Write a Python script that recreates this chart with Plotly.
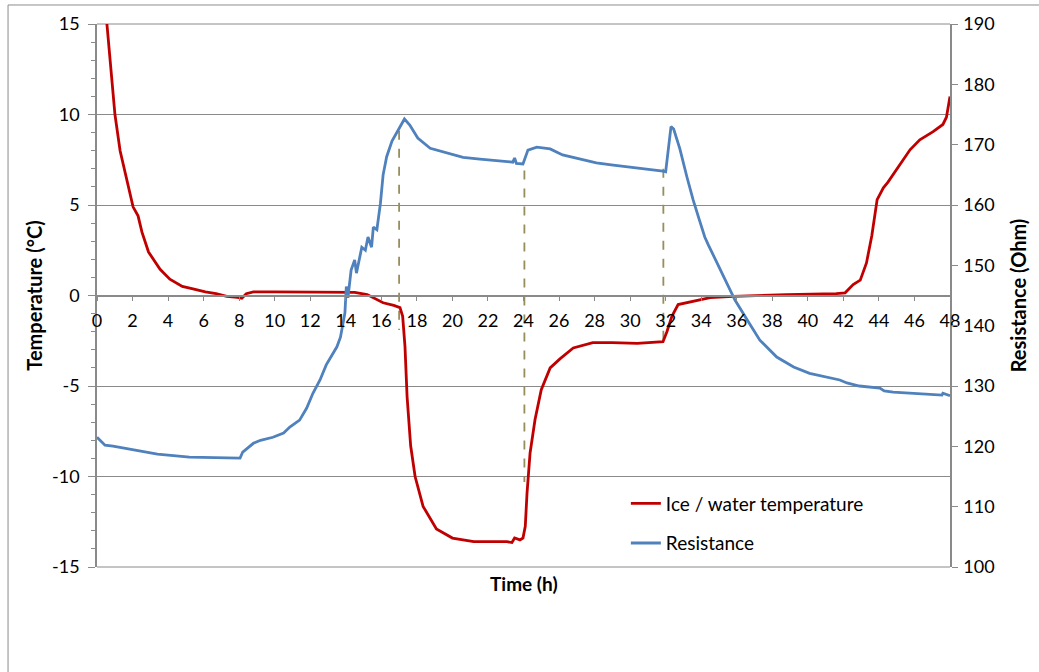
import plotly.graph_objects as go

# Temperature (ice / water), degrees C
temp_time = [0.35, 0.56, 0.8, 1.01, 1.3, 1.75, 2.03, 2.31, 2.53, 2.9, 3.55, 4.1, 4.8, 5.4, 6.1, 6.7,
             7.3, 7.9, 8.15, 8.4, 8.8, 10, 12, 14.5, 15.2, 15.75, 16.1, 16.7, 17.05, 17.2, 17.33,
             17.45, 17.65, 17.9, 18.35, 19.1, 20.0, 21.2, 23.07, 23.35, 23.5, 23.8, 23.97, 24.1,
             24.2, 24.37, 24.65, 25.0, 25.5, 26.05, 26.8, 27.9, 29, 30.4, 31.85, 32.07, 32.35,
             32.7, 33.55, 34.5, 35.8, 38.8, 41.6, 42.1, 42.55, 42.95, 43.3, 43.6, 43.9, 44.25,
             44.5, 45.0, 45.75, 46.3, 47.05, 47.6, 47.8, 48.0]
temp_val = [17.3, 15, 12.3, 10, 8, 6.0, 4.9, 4.4, 3.5, 2.4, 1.45, 0.9, 0.5, 0.37, 0.2, 0.1,
            -0.05, -0.1, -0.15, 0.1, 0.2, 0.2, 0.2, 0.17, 0.05, -0.2, -0.4, -0.55, -0.67, -1.15, -2.8,
            -5.6, -8.3, -10, -11.65, -12.9, -13.4, -13.6, -13.6, -13.65, -13.4, -13.5, -13.4, -12.75,
            -10.9, -8.7, -6.85, -5.2, -4.0, -3.5, -2.9, -2.6, -2.6, -2.65, -2.55, -2.0, -1.15,
            -0.5, -0.33, -0.12, -0.05, 0.05, 0.1, 0.15, 0.6, 0.85, 1.8, 3.3, 5.3, 5.95,
            6.25, 6.95, 8.05, 8.6, 9.05, 9.45, 9.85, 11.0]

# Resistance, Ohm
res_time = [0, 0.45, 0.9, 1.5, 3.4, 5.2, 7.5, 8.05, 8.2, 8.8, 9.2, 9.9, 10.5, 10.85, 11.4, 11.8,
            12.15, 12.55, 12.9, 13.5, 13.7, 13.85, 13.95, 14.03, 14.12, 14.3, 14.5, 14.6, 14.9,
            15.1, 15.25, 15.45, 15.55, 15.75, 15.95, 16.1, 16.3, 16.6, 16.9, 17.3, 17.6, 18.05,
            18.75, 19.7, 20.6, 21.55, 22.5, 23.4, 23.5, 23.6, 23.97, 24.1, 24.25, 24.75, 25.5,
            26.2, 27.2, 28.1, 29.05, 30.0, 30.95, 31.85, 32.0, 32.15, 32.3, 32.45, 32.8, 33.2,
            33.55, 33.9, 34.2, 34.4, 34.9, 35.45, 35.9, 36.6, 37.3, 38.25, 39.2, 40.1, 41.1,
            41.8, 42.2, 42.9, 44.05, 44.3, 44.8, 46.7, 47.55, 47.6, 47.75, 48.0]
res_val = [121.5, 120.2, 120.05, 119.7, 118.7, 118.2, 118.05, 118.05, 119.05, 120.5, 121.0, 121.5,
           122.2, 123.2, 124.35, 126.35, 128.8, 131.0, 133.5, 136.5, 138.1, 140.9, 142.1, 146.5,
           144.6, 149.2, 150.9, 148.7, 153.0, 152.5, 154.7, 153.0, 156.35, 155.9, 160.3, 165.0,
           168.0, 170.6, 172.1, 174.25, 173.25, 171.1, 169.4, 168.6, 167.9, 167.6, 167.3, 167.1,
           167.8, 166.9, 166.8, 168.0, 169.1, 169.6, 169.3, 168.3, 167.6, 167.0, 166.6, 166.3,
           166.0, 165.6, 165.5, 169.1, 173.0, 172.6, 169.3, 164.6, 160.8, 157.5, 154.7, 153.4,
           150.4, 147.1, 144.25, 140.9, 137.6, 134.8, 133.15, 132.1, 131.5, 131.0, 130.5, 130.0,
           129.65, 129.2, 129.0, 128.65, 128.5, 128.8, 128.6, 128.4]

# Dashed marker lines (time, top temp, bottom temp)
marker_time = [17.0, 24.05, 31.87]
marker_top = [9.1, 6.9, 7.0]
marker_bottom = [-1.9, -10.3, -2.6]

x_ticks = list(range(0, 49, 2))
temp_ticks = [-15, -10, -5, 0, 5, 10, 15]
temp_tick_text = ["-15", "-10", "-5", "0", "5", "10", "15"]
res_ticks = list(range(100, 191, 10))

FONT = "Lato, 'Open Sans', sans-serif"
GRID = "#8a8a8a"
TICKSIZE = 18

fig = go.Figure()

dx, dy = [], []
for t, a, b in zip(marker_time, marker_top, marker_bottom):
    dx += [t, t, None]
    dy += [a, b, None]
fig.add_trace(go.Scatter(x=dx, y=dy, mode="lines", showlegend=False, hoverinfo="skip",
                         line=dict(color="#978e5c", width=1.8, dash="dash")))

fig.add_trace(go.Scatter(x=temp_time, y=temp_val, mode="lines", name="Ice / water temperature",
                         legendgroup="a", line=dict(color="#c00000", width=2.8)))
fig.add_trace(go.Scatter(x=res_time, y=res_val, mode="lines", name="Resistance", yaxis="y2",
                         legendgroup="b", line=dict(color="#4f81bd", width=2.8)))

fig.update_layout(
    width=1039, height=672,
    margin=dict(l=97, r=89, t=24, b=105),
    paper_bgcolor="white", plot_bgcolor="white",
    font=dict(family=FONT, size=TICKSIZE, color="black"),
    showlegend=True,
    legend=dict(x=0.62, y=0.152, xanchor="left", yanchor="top", bgcolor="rgba(0,0,0,0)",
                font=dict(size=19), tracegroupgap=12, itemwidth=30),
    xaxis=dict(range=[0, 48], tickvals=x_ticks, ticks="outside", ticklen=5, tickcolor=GRID,
               showline=True, linecolor=GRID, linewidth=1.5, showgrid=False, zeroline=False,
               anchor="free", position=0.5, fixedrange=True, automargin=False,
               ticklabelstandoff=4, tickfont=dict(size=TICKSIZE)),
    yaxis=dict(range=[-15, 15], tickvals=temp_ticks, ticktext=temp_tick_text, ticks="outside",
               ticklen=7, tickcolor=GRID, showline=True, linecolor=GRID, linewidth=1.5,
               showgrid=True, gridcolor=GRID, gridwidth=1, zeroline=False, automargin=False,
               ticklabelstandoff=5, tickfont=dict(size=TICKSIZE),
               minor=dict(dtick=1, ticks="outside", ticklen=4, tickcolor=GRID, showgrid=False),
               title=dict(text="<b>Temperature (°C)</b>", font=dict(size=20), standoff=4)),
    yaxis2=dict(range=[100, 190], tickvals=res_ticks, overlaying="y", side="right", anchor="x",
                ticks="outside", ticklen=6, tickcolor=GRID, showline=True, linecolor=GRID,
                linewidth=1.5, showgrid=False, zeroline=False, automargin=False,
                ticklabelstandoff=2, tickfont=dict(size=TICKSIZE),
                title=dict(text="<b>Resistance (Ohm)</b>", font=dict(size=20), standoff=18)),
    annotations=[dict(text="<b>Time (h)</b>", xref="paper", yref="paper", x=0.5, y=-0.03,
                      xanchor="center", yanchor="middle", showarrow=False, font=dict(size=19))],
    shapes=[
        dict(type="rect", xref="paper", yref="paper", x0=-0.1043, x1=1.3, y0=-0.4, y1=1.0350,
             line=dict(color="#8c8c8c", width=1), layer="below"),
        dict(type="line", xref="paper", yref="paper", x0=0, x1=1, y0=1, y1=1,
             line=dict(color=GRID, width=1), layer="below"),
        dict(type="line", xref="paper", yref="paper", x0=0, x1=1, y0=0, y1=0,
             line=dict(color=GRID, width=1), layer="below"),
    ],
)

fig.write_html("out.html", config={"displayModeBar": False},
               post_script="document.body.style.margin='0';")
